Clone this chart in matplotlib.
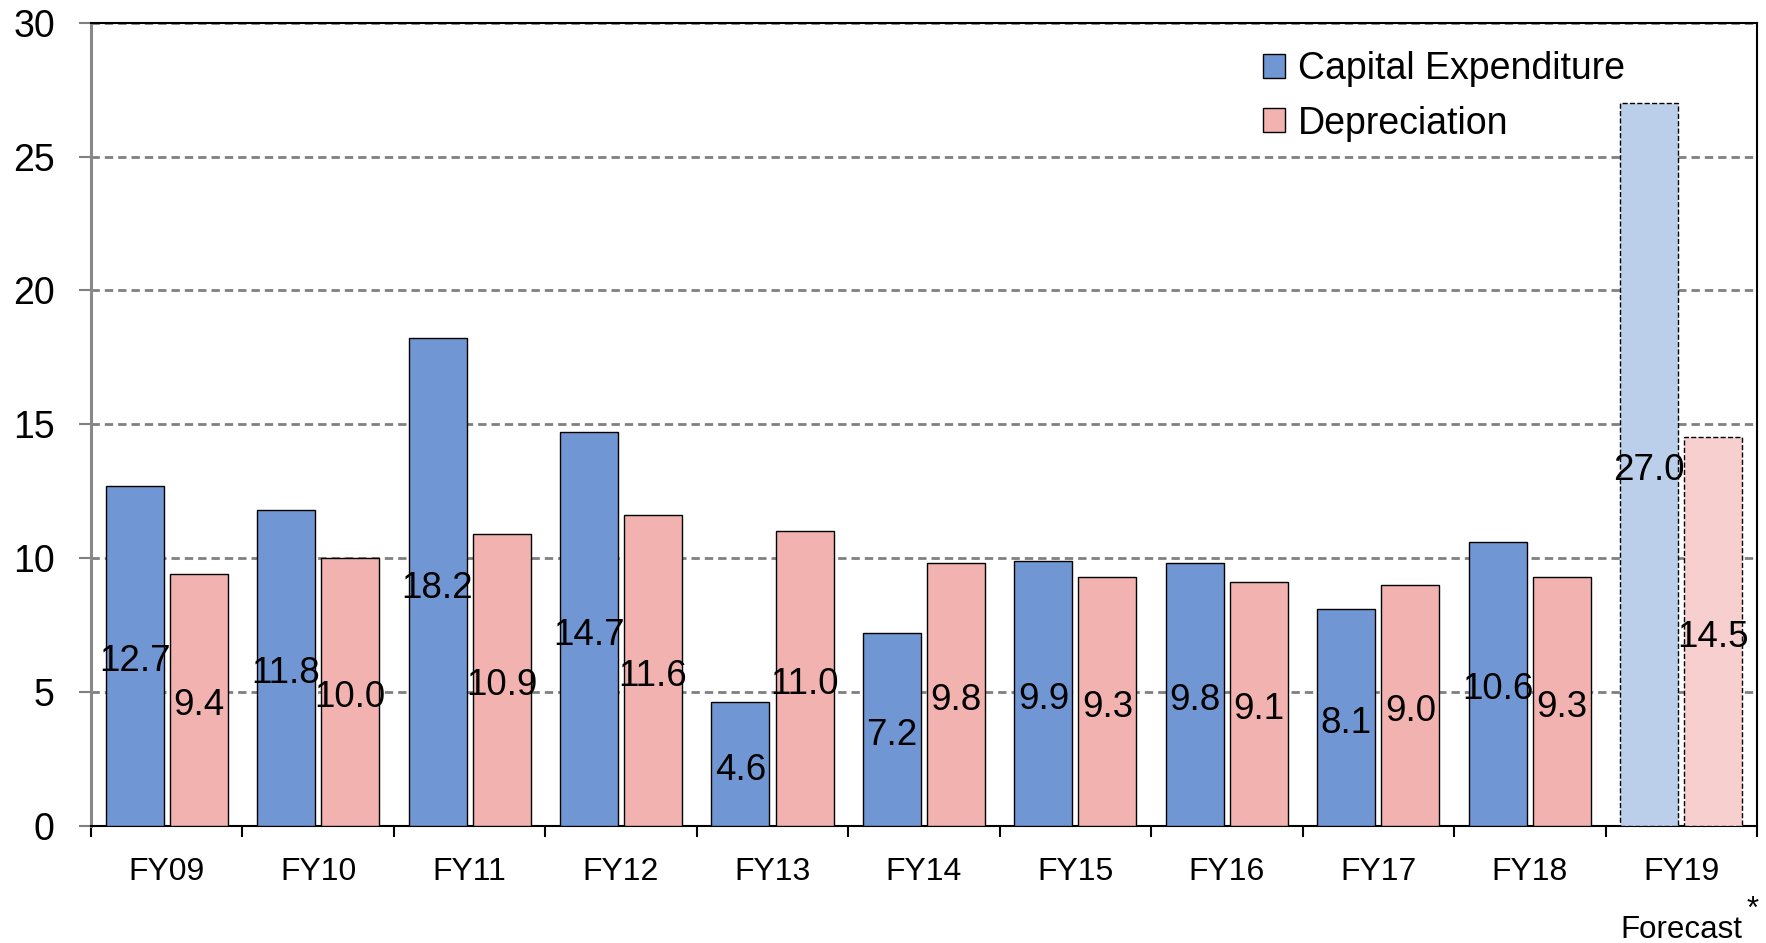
import numpy as np
import matplotlib
matplotlib.use('Agg')
import matplotlib.pyplot as plt
import matplotlib.transforms as mtransforms

plt.rcParams['font.family'] = ['Liberation Sans', 'DejaVu Sans']

#----------------
#   Chart data
#----------------
years = ['FY09', 'FY10', 'FY11', 'FY12', 'FY13', 'FY14',
         'FY15', 'FY16', 'FY17', 'FY18', 'FY19']
capex = [12.7, 11.8, 18.2, 14.7, 4.6, 7.2, 9.9, 9.8, 8.1, 10.6, 27.0]
depreciation = [9.4, 10.0, 10.9, 11.6, 11.0, 9.8, 9.3, 9.1, 9.0, 9.3, 14.5]
forecast = [False] * 10 + [True]

blue, pink = '#7097D3', '#F2B2B0'
blue_fc, pink_fc = '#BBCFEA', '#F8CFCF'

x = np.arange(len(years))
width = 0.383
offset = 0.2115

fig = plt.figure(figsize=(17.66, 9.43), dpi=100)
ax = fig.add_axes([0.0515, 0.1246, 0.9434, 0.8513])

for i in range(len(years)):
    fc = forecast[i]
    ax.bar(x[i] - offset, capex[i], width,
           color=blue_fc if fc else blue, edgecolor='black',
           linewidth=1.0, linestyle='--' if fc else '-', zorder=3,
           label='Capital Expenditure' if i == 0 else None)
    ax.bar(x[i] + offset, depreciation[i], width,
           color=pink_fc if fc else pink, edgecolor='black',
           linewidth=1.0, linestyle='--' if fc else '-', zorder=3,
           label='Depreciation' if i == 0 else None)
    # value labels sit in the middle of each bar
    ax.annotate(f'{capex[i]:.1f}', (x[i] - offset, capex[i] / 2),
                xytext=(0, -4.5), textcoords='offset points',
                ha='center', va='center', fontsize=26.5, zorder=5)
    ax.annotate(f'{depreciation[i]:.1f}', (x[i] + offset, depreciation[i] / 2),
                xytext=(0, -4.5), textcoords='offset points',
                ha='center', va='center', fontsize=26.5, zorder=5)

#------------------
#   Axes styling
#------------------
ax.set_xlim(-0.5, len(years) - 0.5)
ax.set_ylim(0, 30)
ax.set_yticks(np.arange(0, 31, 5))
ax.yaxis.grid(True, color='#808080', linestyle=(0, (3, 1.8)), linewidth=2.0)
ax.set_axisbelow(True)

ax.set_xticks(x)
ax.set_xticklabels(years, fontsize=23)
ax.set_xticks(np.arange(-0.5, len(years), 1.0), minor=True)
ax.tick_params(axis='x', which='major', length=0, pad=23)
ax.tick_params(axis='x', which='minor', length=8, width=1.5,
               direction='out', color='black')
ax.tick_params(axis='y', length=9, width=1.5, color='#808080',
               labelsize=27, pad=17)

for side in ['top', 'right', 'bottom']:
    ax.spines[side].set_color('black')
    ax.spines[side].set_linewidth(1.5)
ax.spines['left'].set_color('#888888')
ax.spines['left'].set_linewidth(2.2)

# forecast note below FY19
trans = mtransforms.blended_transform_factory(ax.transData, ax.transAxes)
ax.text(x[-1], -0.130, 'Forecast', transform=trans,
        ha='center', va='center', fontsize=22.5)
ax.text(x[-1] + 0.47, -0.105, '*', transform=trans,
        ha='center', va='center', fontsize=22.5)

ax.legend(loc='upper left', bbox_to_anchor=(0.683, 1.007), frameon=False,
          fontsize=27, handlelength=0.6, handleheight=0.6,
          handletextpad=0.35, labelspacing=0.5)

plt.savefig('out.png', dpi=100)
